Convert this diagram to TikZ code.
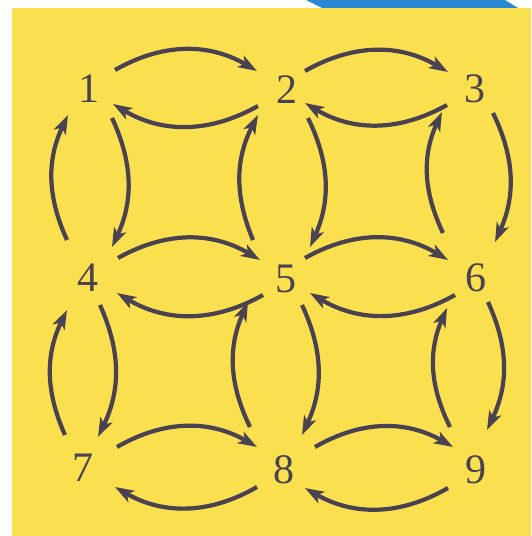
\documentclass[tikz,border=0pt]{standalone}
\usepackage{fontspec}
\setmainfont{Liberation Serif}
\usetikzlibrary{arrows.meta,calc}
\definecolor{bgyellow}{HTML}{FAE04E}
\definecolor{ink}{HTML}{4A4250}
\definecolor{band}{HTML}{2A87D6}
\begin{document}
\begin{tikzpicture}[x=1pt,y=1pt,
  num/.style={font=\fontsize{42}{42}\selectfont, text=ink, inner sep=0pt},
  arr/.style={draw=ink, line width=4.2pt, -{Stealth[length=19pt,width=13pt,inset=5pt]}},
  hb/.style={bend left=30}, vb/.style={bend left=25}]
\useasboundingbox (0,0) rectangle (531,536);
\fill[white] (0,0) rectangle (531,536);
\fill[bgyellow] (12,0) rectangle (531,528);
\fill[band] (306,536) -- (505,536) -- (518,528) -- (322,528) -- cycle;
\node[num] (n1) at (89,447) {1};
\node[num] (n2) at (287,446) {2};
\node[num] (n3) at (475,447) {3};
\node[num] (n4) at (88,258) {4};
\node[num] (n5) at (286,257) {5};
\node[num] (n6) at (476,258) {6};
\node[num] (n7) at (83,68) {7};
\node[num] (n8) at (284,66) {8};
\node[num] (n9) at (476,66) {9};
% horizontal arrows
\draw[arr] ($(n1)+(26,19)$)   to[hb] ($(n2)+(-30,19)$);
\draw[arr] ($(n2)+(-29,-16)$) to[hb] ($(n1)+(24,-15)$);
\draw[arr] ($(n2)+(18,19)$)   to[hb] ($(n3)+(-27,17)$);
\draw[arr] ($(n3)+(-28,-16)$) to[hb] ($(n2)+(18,-13)$);
\draw[arr] ($(n4)+(30,20)$)   to[hb] ($(n5)+(-26,19)$);
\draw[arr] ($(n5)+(-23,-16)$) to[hb] ($(n4)+(29,-15)$);
\draw[arr] ($(n5)+(19,21)$)   to[hb] ($(n6)+(-28,18)$);
\draw[arr] ($(n6)+(-21,-17)$) to[hb] ($(n5)+(24,-14)$);
\draw[arr] ($(n7)+(34,21)$)   to[hb] ($(n8)+(-27,23)$);
\draw[arr] ($(n8)+(-27,-17)$) to[hb] ($(n7)+(32,-19)$);
\draw[arr] ($(n8)+(31,23)$)   to[hb] ($(n9)+(-23,23)$);
\draw[arr] ($(n9)+(-28,-18)$) to[hb] ($(n8)+(21,-18)$);
% vertical arrows
\draw[arr] ($(n4)+(-21,38)$)  to[vb] ($(n1)+(-21,-26)$);
\draw[arr] ($(n1)+(23,-29)$)  to[vb] ($(n4)+(24,31)$);
\draw[arr] ($(n5)+(-33,39)$)  to[vb] ($(n2)+(-29,-25)$);
\draw[arr] ($(n2)+(21,-28)$)  to[vb] ($(n5)+(24,32)$);
\draw[arr] ($(n6)+(-33,45)$)  to[vb] ($(n3)+(-33,-23)$);
\draw[arr] ($(n3)+(18,-24)$)  to[vb] ($(n6)+(19,36)$);
\draw[arr] ($(n7)+(-18,33)$)  to[vb] ($(n4)+(-21,-32)$);
\draw[arr] ($(n4)+(12,-27)$)  to[vb] ($(n7)+(15,31)$);
\draw[arr] ($(n8)+(-34,43)$)  to[vb] ($(n5)+(-38,-23)$);
\draw[arr] ($(n5)+(16,-26)$)  to[vb] ($(n8)+(18,35)$);
\draw[arr] ($(n9)+(-26,43)$)  to[vb] ($(n6)+(-29,-30)$);
\draw[arr] ($(n6)+(12,-24)$)  to[vb] ($(n9)+(11,40)$);
\end{tikzpicture}
\end{document}
